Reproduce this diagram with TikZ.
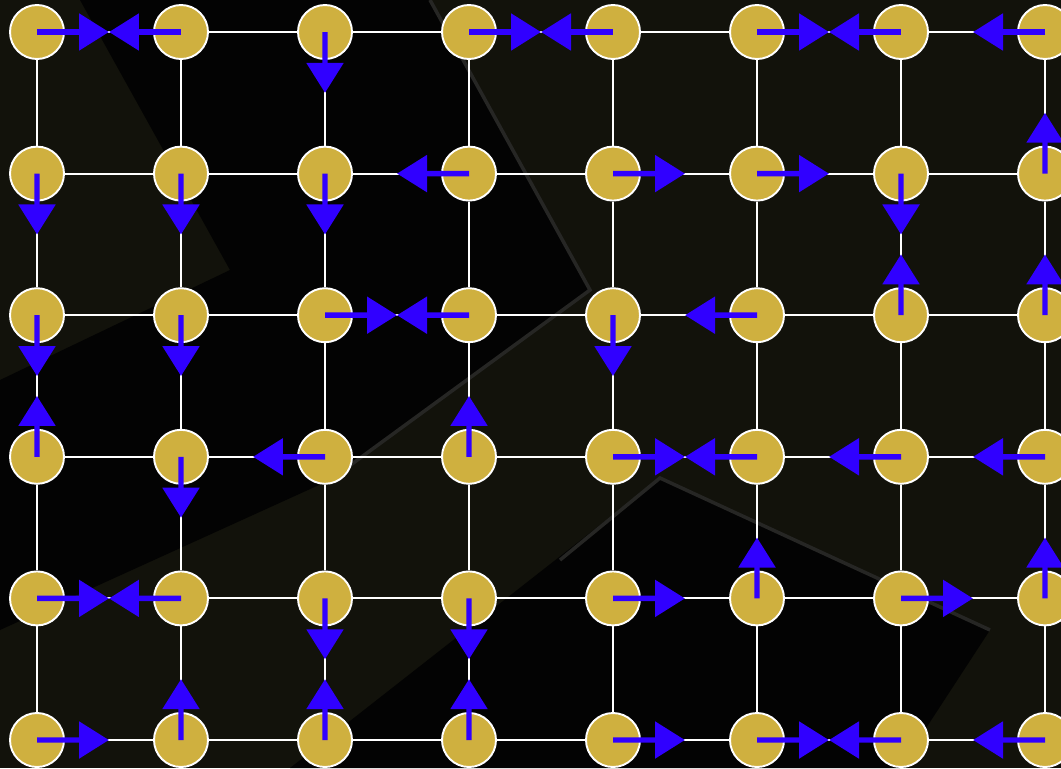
\documentclass[tikz,border=0pt]{standalone}
\usepackage{xcolor}
\definecolor{board}{HTML}{12120B}
\definecolor{logoblack}{HTML}{030303}
\definecolor{ridge}{HTML}{262624}
\definecolor{gold}{HTML}{CFB03F}
\definecolor{flowblue}{HTML}{3000FF}
\usetikzlibrary{arrows.meta, calc}

\tikzset{
  cell/.style={circle, draw=white, line width=1.1pt, fill=gold,
    minimum size=1.08cm, inner sep=0pt},
  link/.style={white, line width=1.1pt},
  flow/.style={flowblue, line width=3.1pt,
    -{Triangle[length=0.6cm, width=0.72cm]}},
}

\begin{document}
\begin{tikzpicture}[x=0.02cm, y=-0.02cm]
  \clip (0,0) rectangle (1061,768);
  \fill[board] (0,0) rectangle (1061,768);
  % dark logo shapes in the back
  \fill[logoblack] (80,0) -- (430,0) -- (590,290) -- (330,480)
    -- (0,630) -- (0,380) -- (230,270) -- cycle;
  \draw[ridge, line width=2pt] (430,0) -- (590,290) -- (330,480);
  \fill[logoblack] (290,768) -- (660,478) -- (990,630)
    -- (900,768) -- cycle;
  \draw[ridge, line width=2pt] (560,560) -- (660,478) -- (990,630);

  % cells
  \foreach \c in {0,...,7}
    \foreach \r in {0,...,5}
      \node[cell] (n-\c-\r) at ({37+144*\c},{32+141.6*\r}) {};

  % grid links
  \foreach \c [count=\cc] in {0,...,6}
    \foreach \r in {0,...,5}
      \draw[link] (n-\c-\r) -- (n-\cc-\r);
  \foreach \c in {0,...,7}
    \foreach \r [count=\rr] in {0,...,4}
      \draw[link] (n-\c-\r) -- (n-\c-\rr);

  % flow arrows (from / towards / how far)
  \foreach \a/\b/\f in {
      0-0/1-0/.5, 1-0/0-0/.5, 2-0/2-1/.43, 3-0/4-0/.5, 4-0/3-0/.5,
      5-0/6-0/.5, 6-0/5-0/.5, 7-0/6-0/.5,
      0-1/0-2/.43, 1-1/1-2/.43, 2-1/2-2/.43, 3-1/2-1/.5, 4-1/5-1/.5,
      5-1/6-1/.5, 6-1/6-2/.43, 7-1/7-0/.43,
      0-2/0-3/.43, 1-2/1-3/.43, 2-2/3-2/.5, 3-2/2-2/.5, 4-2/4-3/.43,
      5-2/4-2/.5, 6-2/6-1/.43, 7-2/7-1/.43,
      0-3/0-2/.43, 1-3/1-4/.43, 2-3/1-3/.5, 3-3/3-2/.43, 4-3/5-3/.5,
      5-3/4-3/.5, 6-3/5-3/.5, 7-3/6-3/.5,
      0-4/1-4/.5, 1-4/0-4/.5, 2-4/2-5/.43, 3-4/3-5/.43, 4-4/5-4/.5,
      5-4/5-3/.43, 6-4/7-4/.5, 7-4/7-3/.43,
      0-5/1-5/.5, 1-5/1-4/.43, 2-5/2-4/.43, 3-5/3-4/.43, 4-5/5-5/.5,
      5-5/6-5/.5, 6-5/5-5/.5, 7-5/6-5/.5}
    \draw[flow] (n-\a.center) -- ($(n-\a)!\f!(n-\b)$);
\end{tikzpicture}
\end{document}
